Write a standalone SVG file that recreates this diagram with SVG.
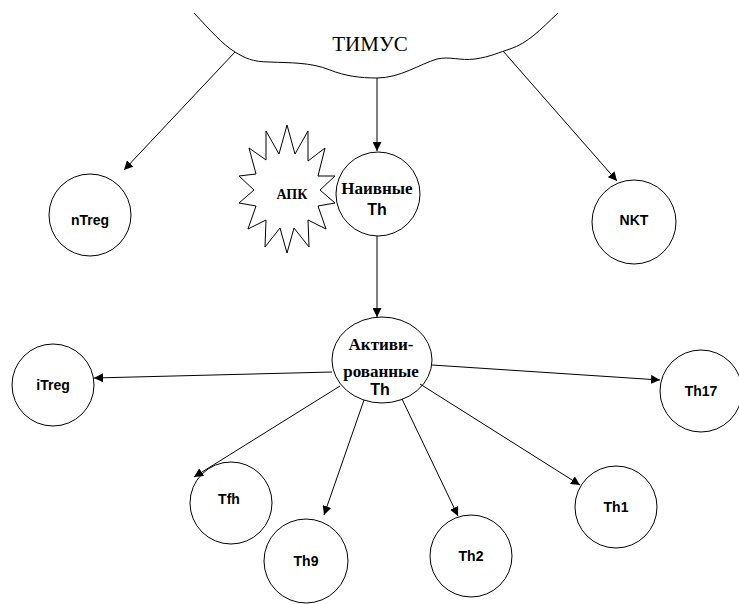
<svg xmlns="http://www.w3.org/2000/svg" width="739" height="604" viewBox="0 0 739 604">
<style>
.n{fill:#fff;stroke:#000;stroke-width:1}
.c{stroke:#000;stroke-width:1;fill:none;marker-end:url(#ah)}
.a{font-family:"Liberation Sans",Arial,"DejaVu Sans",sans-serif;font-weight:bold;font-size:14px;text-anchor:middle}
.th{font-size:16px}
.t{font-family:"Liberation Serif","Times New Roman","DejaVu Serif",serif;font-weight:bold;font-size:17px;text-anchor:middle}
.s{font-size:14px}
</style>
<defs>
<marker id="ah" viewBox="0 0 10 10" refX="10" refY="5" markerWidth="9" markerHeight="9" markerUnits="userSpaceOnUse" orient="auto">
<path d="M0,0 L10,5 L0,10 z" fill="#000"/>
</marker>
</defs>
<rect width="739" height="604" fill="#fff"/>
<g id="thymus">
<path d="M194,13 C210,30 222,44 235,52 C245,58 252,62 270,62 C290,63 310,62 330,70 C345,76 360,78 377,78 C400,78 420,64 437,59 C450,56 460,61 475,59 C490,57 500,52 510,49 C528,43 540,30 558,13" fill="none" stroke="#000" stroke-width="1"/>
<text x="370" y="51" font-family="'Liberation Serif','Times New Roman','DejaVu Serif',serif" font-size="21" text-anchor="middle">ТИМУС</text>
</g>
<g id="apk">
<polygon class="n" points="287,125 295,154 308,131 308,161 325,148 318,176 335,176 320,190 335,203 318,206 326,229 308,220 309,247 294,228 287,253 280,228 265,247 266,220 248,229 256,206 239,203 254,190 239,176 256,174 249,148 266,160 266,131 279,154"/>
<text class="t s" x="292" y="199">АПК</text>
</g>
<g id="naive">
<circle class="n" cx="378" cy="194" r="42"/>
<text class="t" x="377" y="194">Наивные</text>
<text class="a th" x="377" y="215">Th</text>
</g>
<g id="activated">
<ellipse class="n" cx="382" cy="360" rx="50" ry="43"/>
<text class="t" x="381" y="350">Активи-</text>
<text class="t" x="381" y="377">рованные</text>
<text class="a th" x="380" y="395">Th</text>
</g>
<g id="nTreg"><circle class="n" cx="90" cy="215" r="41"/><text class="a" x="90" y="225">nTreg</text></g>
<g id="NKT"><circle class="n" cx="634" cy="222" r="42"/><text class="a" x="634" y="225">NKT</text></g>
<g id="iTreg"><circle class="n" cx="53" cy="385" r="41"/><text class="a" x="53" y="390">iTreg</text></g>
<g id="Th17"><circle class="n" cx="701" cy="391" r="41"/><text class="a" x="701" y="396">Th17</text></g>
<g id="Tfh"><circle class="n" cx="231" cy="503" r="41"/><text class="a" x="229" y="504">Tfh</text></g>
<g id="Th9"><circle class="n" cx="306" cy="561" r="42"/><text class="a" x="306" y="566">Th9</text></g>
<g id="Th2"><circle class="n" cx="471" cy="556" r="41"/><text class="a" x="471" y="561">Th2</text></g>
<g id="Th1"><circle class="n" cx="616" cy="507" r="41"/><text class="a" x="616" y="512">Th1</text></g>
<g id="connectors">
<line class="c" x1="235" y1="52" x2="124" y2="170"/>
<line class="c" x1="377" y1="78" x2="377" y2="151"/>
<line class="c" x1="503" y1="51" x2="617" y2="181"/>
<line class="c" x1="377" y1="236" x2="377" y2="317"/>
<line class="c" x1="332" y1="372" x2="94" y2="378"/>
<line class="c" x1="432" y1="365" x2="660" y2="380"/>
<line class="c" x1="340" y1="386" x2="194" y2="477"/>
<line class="c" x1="364" y1="400" x2="324" y2="515"/>
<line class="c" x1="402" y1="399" x2="458" y2="516"/>
<line class="c" x1="420" y1="384" x2="580" y2="485"/>
</g>
</svg>
